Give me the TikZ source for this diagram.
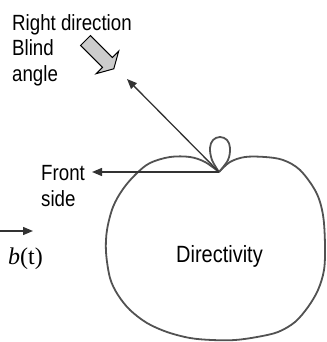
\documentclass[tikz,border=0pt]{standalone}
\usepackage{fontspec}
\setmainfont[FakeStretch=0.85]{Liberation Sans}
\newfontfamily\serifb{Liberation Serif}
\usetikzlibrary{arrows.meta}
\begin{document}
\begin{tikzpicture}[x=1pt,y=-1pt,
  lbl/.style={anchor=base west,inner sep=0pt,font=\fontsize{22}{26}\selectfont},
  outline/.style={draw=black!68,line width=1.8pt,line join=round},
  ptr/.style={draw=black!80,line width=1.3pt,-{Triangle[length=10pt,width=8pt]}},
  blockarrow/.style={draw=black,fill=black!20,line width=1pt,line join=miter}]
\useasboundingbox (0,0) rectangle (326,342);

% directivity outline
\draw[outline] plot[smooth,tension=0.55] coordinates {
 (219,172) (205,162) (190,157) (170,157) (150,163) (136,174) (123,189)
 (113,207) (107,230) (106,252) (110,278) (118,295) (130,310) (147,323)
 (167,332) (190,338) (212,340) (235,340) (257,337) (278,332) (295,322)
 (308,307) (318,290) (324,270) (325,245) (323,215) (316,192) (300,170)
 (283,160) (265,157) (245,157) (230,162) (219,172)};
% small back lobe
\draw[outline] plot[smooth,tension=0.6] coordinates {
 (219,172) (212,160) (210,148) (213,140) (220,137) (227,140) (230,148) (228,160) (219,172)};

\coordinate (cusp) at (219,172);
\coordinate (fronttip) at (92,172);
\coordinate (righttip) at (127,79);
\coordinate (bstart) at (0,231);
\coordinate (bend) at (33,231);

\draw[ptr] (cusp) -- (fronttip);
\draw[ptr] (cusp) -- (righttip);
\draw[ptr] (bstart) -- (bend);

% block arrow
\draw[blockarrow] (90.45,35.55) -- (112.35,57.45) -- (118.7,51.1) -- (113.8,68.8)
  -- (96.1,73.7) -- (102.45,67.35) -- (80.55,45.45) -- cycle;

\node[lbl] (right) at (12,31) {Right direction};
\node[lbl] (blind) at (12,56) {Blind};
\node[lbl] (angle) at (12,82) {angle};
\node[lbl] (front) at (41,180) {Front};
\node[lbl] (side) at (41,206) {side};
\node[lbl,font=\fontsize{23.5}{28}\selectfont] (dir) at (176,262) {Directivity};
\node[lbl,font=\serifb\fontsize{24}{28}\selectfont] (bt) at (8,264) {\textit{b}(t)};
\end{tikzpicture}
\end{document}
